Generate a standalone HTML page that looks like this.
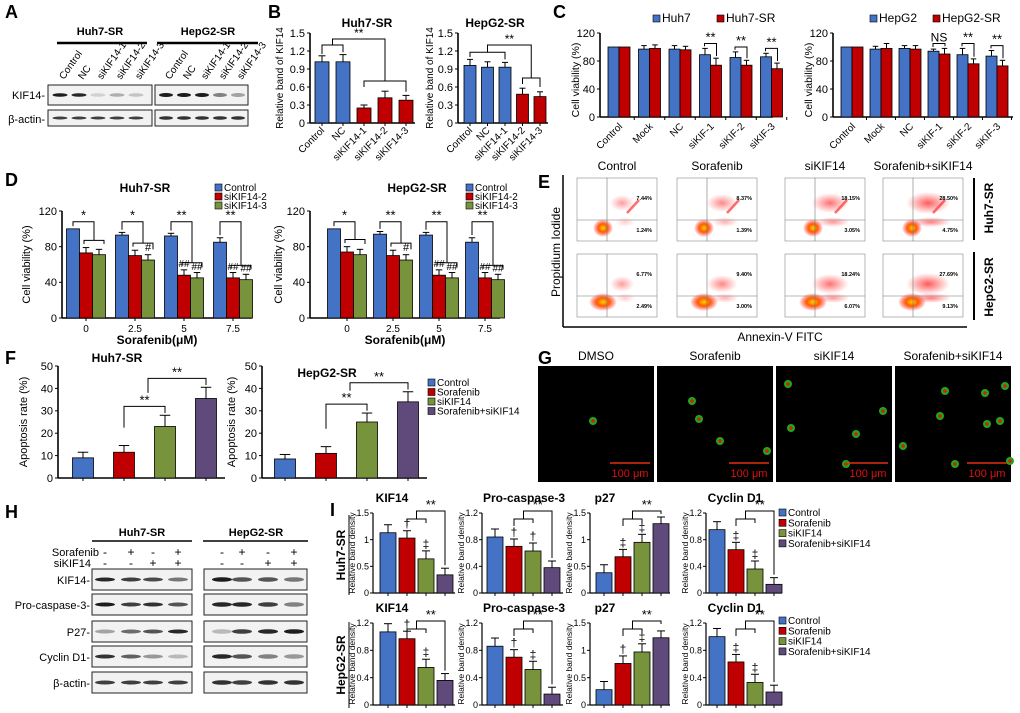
<!DOCTYPE html>
<html><head><meta charset="utf-8">
<style>
html,body{margin:0;padding:0;background:#fff;}
svg{display:block;font-family:"Liberation Sans",sans-serif;}
</style></head>
<body>
<svg id="fig" width="1020" height="713" viewBox="0 0 1020 713" xmlns="http://www.w3.org/2000/svg">
<defs>
<radialGradient id="cloud" cx="50%" cy="50%" r="50%">
<stop offset="0%" stop-color="#ffd000"/><stop offset="45%" stop-color="#ff5a00"/><stop offset="100%" stop-color="#ff2020" stop-opacity="0"/>
</radialGradient>
<radialGradient id="cloud2" cx="50%" cy="50%" r="50%">
<stop offset="0%" stop-color="#ff3030" stop-opacity="0.8"/><stop offset="100%" stop-color="#ff4040" stop-opacity="0"/>
</radialGradient>
</defs>
</svg>
<script>
// ---------- DATA ----------
const bCats=['Control','NC','siKIF14-1','siKIF14-2','siKIF14-3'];
const bHuhVals=[1.02,1.02,0.25,0.42,0.38];
const bHuhErr=[0.1,0.12,0.05,0.11,0.08];
const bHepVals=[0.96,0.93,0.93,0.48,0.44];
const bHepErr=[0.1,0.09,0.08,0.1,0.08];
const bTicks=[0,0.3,0.6,0.9,1.2,1.5];
const cCats=['Control','Mock','NC','siKIF-1','siKIF-2','siKIF-3'];
const cHuh7=[100,97,97,89,85,86];
const cHuh7Err=[0,5,5,9,8,5];
const cHuh7SR=[100,98,96,74,74,69];
const cHuh7SRErr=[0,5,5,10,7,8];
const cHepG2=[100,97,98,94,89,87];
const cHepG2Err=[0,4,4,3,9,8];
const cHepG2SR=[100,98,97,90,76,73];
const cHepG2SRErr=[0,7,5,8,7,8];
const cTicks=[0,40,80,120];
const dDoses=['0','2.5','5','7.5'];
const dHuhCtrl=[100,93,92,85];
const dHuhSi2=[73,70,48,45];
const dHuhSi3=[71,65,45,43];
const dHepCtrl=[100,94,93,85];
const dHepSi2=[74,70,48,45];
const dHepSi3=[71,65,45,43];
const dCtrlErr=[0,3,3,5];
const dSiErr=[6,6,6,6];
const dTicks=[0,40,80,120];
const fGroups=['Control','Sorafenib','siKIF14','Sorafenib+siKIF14'];
const fHuh=[9,11.5,23,35.5];
const fHuhErr=[2.5,3,5,5];
const fHep=[8.5,11,25,34];
const fHepErr=[2,3,4,4.5];
const fTicks=[0,10,20,30,40,50];
const iHuhKIF14=[1.13,1.03,0.64,0.34];
const iHuhCasp=[0.84,0.7,0.63,0.38];
const iHuhP27=[0.38,0.68,0.95,1.3];
const iHuhCyc=[0.95,0.65,0.36,0.13];
const iHepKIF14=[1.07,0.97,0.55,0.36];
const iHepCasp=[0.86,0.7,0.52,0.16];
const iHepP27=[0.28,0.76,0.97,1.23];
const iHepCyc=[1.0,0.63,0.33,0.19];
const iErr=[0.12,0.11,0.12,0.1];
const flowPct=[['7.44%','1.24%'],['8.37%','1.39%'],['18.15%','3.05%'],['28.50%','4.75%'],['6.77%','2.49%'],['9.40%','3.00%'],['18.24%','6.07%'],['27.69%','9.13%']];

const BLUE='#4472C4',RED='#C00000',GREEN='#77933C',PURPLE='#604A7B';
const COLS=[BLUE,RED,GREEN,PURPLE];
const NS='http://www.w3.org/2000/svg';
const svg=document.getElementById('fig');

function mk(tag,attrs,parent){const e=document.createElementNS(NS,tag);for(const k in attrs)e.setAttribute(k,attrs[k]);(parent||svg).appendChild(e);return e;}
function txt(x,y,s,size,opt){opt=opt||{};const e=mk('text',{x:x,y:y,'font-size':size,'text-anchor':opt.anchor||'start',fill:opt.fill||'#000','font-weight':opt.bold?'bold':'normal'});if(opt.rot!==undefined)e.setAttribute('transform','rotate('+opt.rot+' '+x+' '+y+')');e.textContent=s;return e;}
function line(x1,y1,x2,y2,w){return mk('line',{x1:x1,y1:y1,x2:x2,y2:y2,stroke:'#000','stroke-width':w||1});}

function axes(c){
  const ys=v=>c.y0-(v/c.max)*(c.y0-c.yT);
  const a=line(c.x0,c.yT,c.x0,c.y0,c.aw||1.6);
  
  
  const b=line(c.x0,c.y0,c.x1,c.y0,c.aw||1.6);
  
  
  const tg=c.tgap||5;
  c.ticks.forEach(t=>{line(c.x0-3,ys(t),c.x0,ys(t),1);
    const l=txt(c.x0-tg,ys(t)+(c.ts||11)*0.35,c.fmt?c.fmt(t):String(t),c.ts||11,{anchor:'end'});
    
    });
  if(c.ylabel){const yl=txt(c.ylx,c.yly!==undefined?c.yly:(c.y0+c.yT)/2,c.ylabel,c.yls||10,{anchor:'middle',rot:-90});
    
    }
  return ys;
}
function bar(cx,w,v,e,ys,y0,col,name){
  const r=mk('rect',{x:cx-w/2,y:ys(v),width:w,height:y0-ys(v),fill:col,stroke:'#000','stroke-width':0.8});
  
  
  if(e>0){line(cx,ys(v),cx,ys(v+e),1);line(cx-w*0.25,ys(v+e),cx+w*0.25,ys(v+e),1);}
}
function bracket(x1,y1,x2,y2,yt,label,size){
  mk('polyline',{points:x1+','+y1+' '+x1+','+yt+' '+x2+','+yt+' '+x2+','+y2,fill:'none',stroke:'#000','stroke-width':1});
  if(label)txt((x1+x2)/2,yt-2,label,size||11,{anchor:'middle'});
}
function panelLetter(x,y,s){const t=txt(x,y,s,18,{bold:true});}
function legendBox(x,y,col,label,size){mk('rect',{x:x,y:y-7,width:7,height:7,fill:col,stroke:'#000','stroke-width':0.6});const t=txt(x+9,y,label,size||10);}

// ---------- A: western blot ----------
panelLetter(5,18,'A');
function blotBox(x,y,w,h,name){const r=mk('rect',{x:x,y:y,width:w,height:h,fill:'#f2f2f2',stroke:'#222','stroke-width':1});}
function band(cx,cy,w,h,op){mk('ellipse',{cx:cx,cy:cy,rx:w/2,ry:h/2,fill:'#111','fill-opacity':op});}
txt(100,35,'Huh7-SR',11,{anchor:'middle',bold:true});line(57,43,147,43,2.5);
txt(208,35,'HepG2-SR',11,{anchor:'middle',bold:true});line(157,43,258,43,2.5);
const aLanesH=[58,77,96,115,134],aLanesG=[164,182,200,218,236];
bCats.forEach((c,i)=>{txt(aLanesH[i]+6,80,c,10,{rot:-55});txt(aLanesG[i]+6,80,c,10,{rot:-55});});
blotBox(48,85,104,20,'blot-huh7-kif14');blotBox(48,110,104,16,'blot-huh7-actin');
blotBox(155,85,93,20,'blot-hepg2-kif14');blotBox(155,110,93,16,'blot-hepg2-actin');
[0.95,0.9,0.15,0.3,0.2].forEach((o,i)=>band(aLanesH[i]+2,95,15,3.5,o));
[0.95,0.95,0.95,0.5,0.35].forEach((o,i)=>band(aLanesG[i]+2,95,14,4,o));
aLanesH.forEach(x=>band(x+2,118,15,3,0.8));aLanesG.forEach(x=>band(x+2,118,14,3.5,0.85));
txt(45,99,'KIF14-',11,{anchor:'end'});txt(45,123,'β-actin-',11,{anchor:'end'});

// ---------- B ----------
panelLetter(268,18,'B');
txt(367,27,'Huh7-SR',12,{anchor:'middle',bold:true});
txt(495,27,'HepG2-SR',12,{anchor:'middle',bold:true});
(function(){
  const fmt=t=>t===0?'0':t.toFixed(1);
  const c1={x0:310,x1:415,y0:123,yT:33,max:1.5,ticks:bTicks,fmt:fmt,ylabel:'Relative band of KIF14',ylx:283};
  const ys=axes(c1);const xc=i=>322+i*21;
  bHuhVals.forEach((v,i)=>bar(xc(i),14,v,bHuhErr[i],ys,123,i<2?BLUE:RED,'bar-huh7-'+bCats[i]));
  bCats.forEach((c,i)=>{line(xc(i),123,xc(i),126);txt(xc(i)+3,131,c,10,{anchor:'end',rot:-45});});
  bracket(xc(0),ys(1.15),xc(1),ys(1.18),ys(1.3),'');
  bracket(xc(2),ys(0.6),xc(4),ys(0.52),ys(0.7),'');
  bracket((xc(0)+xc(1))/2,ys(1.3),xc(3),ys(0.7),ys(1.4),'**',12);
  const c2={x0:458,x1:548,y0:123,yT:33,max:1.5,ticks:bTicks,fmt:fmt,ylabel:'Relative band of KIF14',ylx:433};
  const ys2=axes(c2);const xc2=i=>470+i*17.5;
  bHepVals.forEach((v,i)=>bar(xc2(i),12,v,bHepErr[i],ys2,123,i<3?BLUE:RED,'bar-hepg2-'+bCats[i]));
  bCats.forEach((c,i)=>{line(xc2(i),123,xc2(i),126);txt(xc2(i)+3,131,c,10,{anchor:'end',rot:-45});});
  bracket(xc2(0),ys2(1.1),xc2(2),ys2(1.06),ys2(1.18),'');
  bracket(xc2(3),ys2(0.65),xc2(4),ys2(0.6),ys2(0.75),'');
  bracket(xc2(1),ys2(1.18),(xc2(3)+xc2(4))/2,ys2(0.75),ys2(1.3),'**',12);
})();

// ---------- C ----------
panelLetter(553,18,'C');
legendBox(653,22,BLUE,'Huh7',12);legendBox(717,22,RED,'Huh7-SR',12);
legendBox(870,22,BLUE,'HepG2',12);legendBox(933,22,RED,'HepG2-SR',12);
function drawC(x0,x1,first,step,ylx,a,ae,b,be,sig,tag){
  const ys=axes({x0:x0,x1:x1,y0:117,yT:33,max:120,ticks:cTicks,ylabel:'Cell viability (%)',ylx:ylx,yly:80,ts:11,yls:10.5});
  const xc=i=>first+i*step;
  cCats.forEach((c,i)=>{
    bar(xc(i)-5.5,11,a[i],ae[i],ys,117,BLUE,'bar-'+tag+'-parent-'+c);
    bar(xc(i)+5.5,11,b[i],be[i],ys,117,RED,'bar-'+tag+'-sr-'+c);
    line(xc(i)+step/2,117,xc(i)+step/2,120);
    txt(xc(i)+4,127,c,10,{anchor:'end',rot:-45});
    if(sig[i])bracket(xc(i)-6,ys(a[i]+ae[i]+3),xc(i)+6,ys(b[i]+be[i]+3),ys(Math.max(a[i]+ae[i],b[i]+be[i])+7),sig[i],sig[i]==='NS'?12:13);
  });
}
drawC(600,773,619,30.5,579,cHuh7,cHuh7Err,cHuh7SR,cHuh7SRErr,['','','','**','**','**'],'huh7');
drawC(833,1013,852,29,812,cHepG2,cHepG2Err,cHepG2SR,cHepG2SRErr,['','','','NS','**','**'],'hepg2');

// ---------- D ----------
panelLetter(5,186,'D');
function drawD(x0,x1,first,step,ylx,title,tx,lx,ctrl,s2,s3,sigs,tag){
  txt(tx,192,title,12,{anchor:'middle',bold:true});
  legendBox(lx,191,BLUE,'Control');legendBox(lx,200,RED,'siKIF14-2');legendBox(lx,209,GREEN,'siKIF14-3');
  const ys=axes({x0:x0,x1:x1,y0:318,yT:211,max:120,ticks:dTicks,ylabel:'Cell viability (%)',ylx:ylx,ts:11,yls:11});
  const xc=i=>first+i*step;
  dDoses.forEach((d,i)=>{
    bar(xc(i)-13,13,ctrl[i],dCtrlErr[i],ys,318,BLUE,'bar-'+tag+'-control-'+d);
    bar(xc(i),13,s2[i],dSiErr[i],ys,318,RED,'bar-'+tag+'-si2-'+d);
    bar(xc(i)+13,13,s3[i],dSiErr[i],ys,318,GREEN,'bar-'+tag+'-si3-'+d);
    line(xc(i),318,xc(i),321);
    txt(xc(i),332,d,10,{anchor:'middle'});
    bracket(xc(i)-2,ys(Math.max(s2[i],s3[i])+10),xc(i)+18,ys(s3[i]+12),ys(Math.max(s2[i],s3[i])+14),'');
    bracket(xc(i)-13,ys(ctrl[i]+dCtrlErr[i]+3),xc(i)+8,ys(Math.max(s2[i],s3[i])+14),ys(108),sigs[i],13);
    if(i===1)txt(xc(i)+13,ys(s3[i]+10),'#',11,{anchor:'middle'});
    if(i>=2){txt(xc(i),ys(s2[i]+9),'##',10,{anchor:'middle'});txt(xc(i)+13,ys(s3[i]+9),'##',10,{anchor:'middle'});}
  });
  txt((x0+x1)/2,344,'Sorafenib(μM)',12,{anchor:'middle',bold:true});
}
drawD(62,252,86,49,30,'Huh7-SR',145,215,dHuhCtrl,dHuhSi2,dHuhSi3,['*','*','**','**'],'huh7');
drawD(310,500,347,46,282,'HepG2-SR',417,466,dHepCtrl,dHepSi2,dHepSi3,['*','**','**','**'],'hepg2');

// ---------- E: flow ----------
panelLetter(538,188,'E');
const eCols=[577,677,785,883],eRows=[178,254],eTitles=['Control','Sorafenib','siKIF14','Sorafenib+siKIF14'];
eTitles.forEach((t,i)=>{const e=txt(eCols[i]+40,170,t,12,{anchor:'middle'});});
eRows.forEach((y,r)=>eCols.forEach((x,c)=>{
  const g=mk('g',{});
  
  
  mk('rect',{x:x,y:y,width:80,height:63,fill:'#fff',stroke:'#888','stroke-width':0.6},g);
  const k=c/3;
  mk('ellipse',{cx:x+26+c*1,cy:y+50-r*2,rx:10+r*4,ry:9,fill:'url(#cloud)'},g);
  mk('ellipse',{cx:x+45,cy:y+25+r*5,rx:12+k*10,ry:8+k*3,fill:'url(#cloud2)','fill-opacity':0.6+k*0.4},g);
  mk('ellipse',{cx:x+48,cy:y+44,rx:10+k*10,ry:5,fill:'url(#cloud2)','fill-opacity':0.3+k*0.5},g);
  if(r===0)mk('line',{x1:x+50,y1:y+35,x2:x+62,y2:y+22,stroke:'#ff3030','stroke-width':2.5,'stroke-opacity':0.7},g);
  mk('line',{x1:x+30,y1:y,x2:x+30,y2:y+63,stroke:'#777','stroke-width':0.6},g);
  mk('line',{x1:x,y1:y+42,x2:x+80,y2:y+42,stroke:'#777','stroke-width':0.6},g);
  const p=flowPct[r*4+c];
  txt(x+75,y+22,p[0],5.5,{anchor:'end',bold:true});txt(x+75,y+54,p[1],5.5,{anchor:'end',bold:true});
}));
line(563,175,563,327,1.5);line(563,327,967,327,1.5);
txt(560,252,'Propidium Iodide',12,{anchor:'middle',rot:-90});
txt(780,341,'Annexin-V FITC',12,{anchor:'middle'});
line(974,178,974,240,2);line(974,252,974,320,2);
txt(993,208,'Huh7-SR',12,{anchor:'middle',bold:true,rot:-90});
txt(993,287,'HepG2-SR',12,{anchor:'middle',bold:true,rot:-90});

// ---------- F ----------
panelLetter(5,364,'F');
function drawF(x0,x1,first,ylx,vals,err,title,tx,ty,tag){
  txt(tx,ty,title,12,{anchor:'middle',bold:true});
  const ys=axes({x0:x0,x1:x1,y0:478,yT:366,max:50,ticks:fTicks,ylabel:'Apoptosis rate (%)',ylx:ylx,ts:11,yls:11});
  const xc=i=>first+i*41;
  vals.forEach((v,i)=>{bar(xc(i),21,v,err[i],ys,478,COLS[i],'bar-'+tag+'-'+fGroups[i]);line(xc(i),478,xc(i),481);});
  bracket(xc(1),ys(vals[1]+err[1]+8),xc(2),ys(vals[2]+err[2]+1),ys(vals[2]+err[2]+4),'**',13);
  bracket(xc(1)+24,ys(vals[2]+err[2]+10),xc(3),ys(vals[3]+err[3]+1),ys(vals[3]+err[3]+4),'**',13);
}
drawF(58,225,83,27,fHuh,fHuhErr,'Huh7-SR',117,362,'huh7');
drawF(262,427,285,235,fHep,fHepErr,'HepG2-SR',327,377,'hepg2');
fGroups.forEach((g,i)=>legendBox(428,386+i*9.5,COLS[i],g,10));

// ---------- G: fluorescence ----------
panelLetter(538,364,'G');
const gX=[538,657,776,895],gT=['DMSO','Sorafenib','siKIF14','Sorafenib+siKIF14'];
const gCells=[[[55,55]],[[35,35],[42,53],[63,75],[110,85]],[[12,18],[107,45],[15,62],[80,68],[70,98]],[[50,25],[90,27],[45,50],[92,58],[105,55],[8,80],[115,95],[60,98],[110,20]]];
gX.forEach((x,i)=>{
  const t=txt(x+58,360,gT[i],12,{anchor:'middle'});
  const r=mk('rect',{x:x,y:366,width:116,height:116,fill:'#000'});
  
  
  gCells[i].forEach(p=>{mk('circle',{cx:x+p[0],cy:366+p[1],r:4,fill:'#1fa81f'});mk('circle',{cx:x+p[0],cy:366+p[1],r:1.8,fill:'#d02010'});});
  line(x+72,463,x+112,463,1.5).setAttribute('stroke','#e03010');
  txt(x+92,477,'100 μm',11,{anchor:'middle',fill:'#e01010'});
});

// ---------- H: blots ----------
panelLetter(5,518,'H');
txt(142,536,'Huh7-SR',11,{anchor:'middle',bold:true});line(92,541,192,541,1.5);
txt(256,536,'HepG2-SR',11,{anchor:'middle',bold:true});line(203,541,308,541,1.5);
const hH=[105,131,153,178],hG=[222,242,268,294];
const sor=['-','+','-','+'],si=['-','-','+','+'];
txt(99,556,'Sorafenib',11,{anchor:'end'});txt(91,567,'siKIF14',11,{anchor:'end'});
[hH,hG].forEach(L=>L.forEach((x,i)=>{txt(x,556,sor[i],12,{anchor:'middle'});txt(x,567,si[i],12,{anchor:'middle'});}));
const hRows=[['KIF14',569,[0.9,0.8,0.75,0.55],[0.95,0.7,0.7,0.55]],['Pro-caspase-3',594,[0.95,0.8,0.85,0.7],[0.9,0.9,0.8,0.5]],['P27',621,[0.35,0.6,0.7,0.9],[0.25,0.8,0.9,0.95]],['Cyclin D1',646,[0.85,0.65,0.4,0.25],[0.9,0.7,0.5,0.4]],['β-actin',672,[0.8,0.8,0.8,0.8],[0.85,0.8,0.85,0.85]]];
hRows.forEach(r=>{
  blotBox(92,r[1],100,21,'blot-huh7-'+r[0]);blotBox(204,r[1],103,21,'blot-hepg2-'+r[0]);
  txt(90,r[1]+15,r[0]+'-',11,{anchor:'end'});
  hH.forEach((x,i)=>band(x,r[1]+10.5,20,4,r[2][i]));hG.forEach((x,i)=>band(x,r[1]+10.5,20,4.5,r[3][i]));
});

// ---------- I ----------
panelLetter(330,516,'I');
const iCharts=[
 {t:'KIF14',x0:373,x1:455,f:388,max:1.5,tk:[0,0.5,1,1.5],top:iHuhKIF14,bot:iHepKIF14,bmax:1.2,btk:[0,0.4,0.8,1.2],tx:392},
 {t:'Pro-caspase-3',x0:482,x1:563,f:495,max:1.2,tk:[0,0.4,0.8,1.2],top:iHuhCasp,bot:iHepCasp,bmax:1.2,btk:[0,0.4,0.8,1.2],tx:524},
 {t:'p27',x0:590,x1:670,f:604,max:1.5,tk:[0,0.5,1,1.5],top:iHuhP27,bot:iHepP27,bmax:1.5,btk:[0,0.5,1,1.5],tx:605},
 {t:'Cyclin D1',x0:706,x1:782,f:717,max:1.2,tk:[0,0.4,0.8,1.2],top:iHuhCyc,bot:iHepCyc,bmax:1.2,btk:[0,0.4,0.8,1.2],tx:735}];
const iMarks={'KIF14':['','†','‡',''],'Pro-caspase-3':['','†','†',''],'p27':['','‡','‡',''],'Cyclin D1':['','‡','‡','']};
const iMarksB={'KIF14':['','†','‡',''],'Pro-caspase-3':['','†','‡',''],'p27':['','†','‡',''],'Cyclin D1':['','‡','‡','']};
function drawI(ch,vals,max,tk,y0,yT,ty,marks,tag){
  txt(ch.tx,ty,ch.t,12,{anchor:'middle',bold:true});
  const fmt=t=>(max===1.5?String(t):(t===0?'0':t.toFixed(1)));
  const ys=axes({x0:ch.x0,x1:ch.x1,y0:y0,yT:yT,max:max,ticks:tk,fmt:fmt,ylabel:'Relative band density',ylx:ch.x0-18,ts:9,tgap:4,yls:8.5,aw:1.2});
  const xc=i=>ch.f+i*19;
  vals.forEach((v,i)=>{bar(xc(i),16,v,iErr[i]*max/1.2,ys,y0,COLS[i],'bar-'+tag+'-'+ch.t+'-'+fGroups[i]);line(xc(i),y0,xc(i),y0+3);
    if(marks[i])txt(xc(i),ys(v+iErr[i]*max/1.2)-3,marks[i],12,{anchor:'middle'});});
  if(ch.t==='p27'){
    bracket(xc(1),yT+13,xc(2),yT+10,yT+6,'');
    bracket((xc(1)+xc(2))/2,yT+6,xc(3),yT+1,yT-2,'**',13);
  } else {
    bracket(xc(1),yT+13,xc(2),yT+10,yT+6,'');
    bracket((xc(1)+xc(2))/2,yT+6,xc(3),ys(vals[3]+iErr[3]*max/1.2)-3,yT-2,'**',13);
  }
}
iCharts.forEach(ch=>{drawI(ch,ch.top,ch.max,ch.tk,593,513,502,iMarks[ch.t],'huh7');drawI(ch,ch.bot,ch.bmax,ch.btk,705,623,612,iMarksB[ch.t],'hepg2');});
txt(345,555,'Huh7-SR',12,{anchor:'middle',bold:true,rot:-90});line(349,515,349,595,1);
txt(345,665,'HepG2-SR',12,{anchor:'middle',bold:true,rot:-90});line(349,622,349,708,1);
fGroups.forEach((g,i)=>{legendBox(779,516+i*10.3,COLS[i],g,10);legendBox(779,624+i*10.3,COLS[i],g,10);});
</script>
</body></html>
